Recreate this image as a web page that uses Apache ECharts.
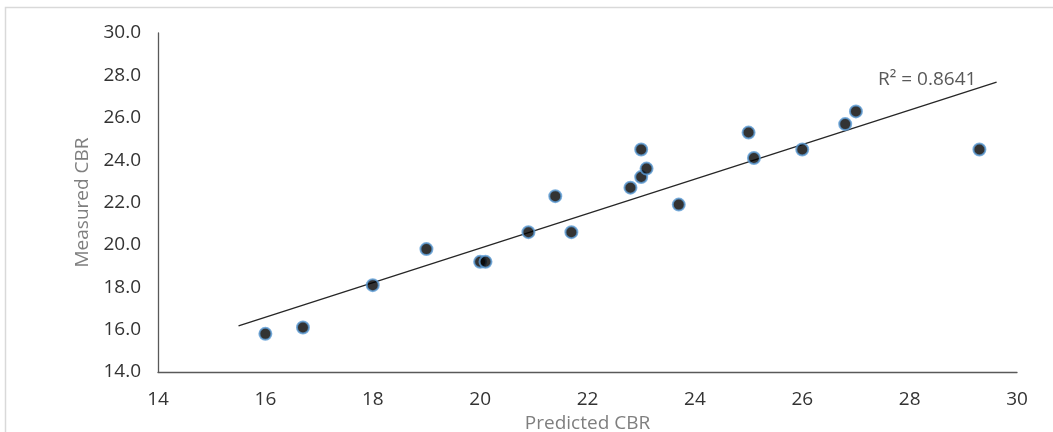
<!DOCTYPE html>
<html>
<head>
<meta charset="utf-8">
<script src="https://cdn.jsdelivr.net/npm/echarts@6/dist/echarts.min.js"></script>
<style>html,body{margin:0;padding:0;background:#fff}#c{width:1053px;height:432px}</style>
</head>
<body>
<div id="c"></div>
<script>
const predicted = [16.0, 16.7, 18.0, 19.0, 20.0, 20.1, 20.9, 21.4, 21.7, 22.8, 23.0, 23.0, 23.1, 23.7, 25.0, 25.1, 26.0, 26.8, 27.0, 29.3];
const measured  = [15.8, 16.1, 18.1, 19.8, 19.2, 19.2, 20.6, 22.3, 20.6, 22.7, 23.2, 24.5, 23.6, 21.9, 25.3, 24.1, 24.5, 25.7, 26.3, 24.5];
const trendX = [15.5, 29.62];
const trendY = [16.18, 27.68];
const rSquaredLabel = 'R² = 0.8641';
const xTicks = [14, 16, 18, 20, 22, 24, 26, 28, 30];
const yTicks = [14, 16, 18, 20, 22, 24, 26, 28, 30];

const FONT = '"Open Sans", "Noto Sans", sans-serif';
const chart = echarts.init(document.getElementById('c'));
chart.setOption({
  animation: false,
  backgroundColor: '#fff',
  grid: { left: 158, top: 33, right: 36, bottom: 60, outerBoundsMode: 'none', containLabel: false },
  xAxis: {
    type: 'value', min: xTicks[0], max: xTicks[xTicks.length - 1], interval: 2,
    name: 'Predicted CBR', nameLocation: 'middle', nameGap: 37,
    nameTextStyle: { color: '#7f7f7f', fontSize: 19, fontFamily: FONT },
    axisLine: { show: true, lineStyle: { color: '#595959', width: 1.3 } },
    axisTick: { show: false }, splitLine: { show: false },
    axisLabel: { color: '#333', fontSize: 19, fontFamily: FONT, margin: 18 }
  },
  yAxis: {
    type: 'value', min: yTicks[0], max: yTicks[yTicks.length - 1], interval: 2,
    name: 'Measured CBR', nameLocation: 'middle', nameGap: 66,
    nameTextStyle: { color: '#7f7f7f', fontSize: 19, fontFamily: FONT },
    axisLine: { show: true, lineStyle: { color: '#595959', width: 1.3 } },
    axisTick: { show: false }, splitLine: { show: false },
    axisLabel: { color: '#333', fontSize: 19, fontFamily: FONT, margin: 17,
      formatter: v => v.toFixed(1) }
  },
  graphic: [
    { type: 'rect', shape: { x: 5.5, y: 7.5, width: 1100, height: 500 },
      style: { fill: 'none', stroke: '#d9d9d9', lineWidth: 1.5 }, z: -1, silent: true },
    { type: 'text', left: 878, top: 70,
      style: { text: rSquaredLabel, fill: '#595959', font: '19px ' + FONT } }
  ],
  series: [
    {
      type: 'line', data: trendX.map((x, i) => [x, trendY[i]]),
      symbol: 'none', lineStyle: { color: '#262626', width: 1.3 }, z: 1
    },
    {
      type: 'scatter', data: predicted.map((x, i) => [x, measured[i]]),
      symbolSize: 12,
      itemStyle: { color: '#000', borderColor: '#5b9bd5', borderWidth: 2 }, z: 3
    }
  ]
});
</script>
</body>
</html>
